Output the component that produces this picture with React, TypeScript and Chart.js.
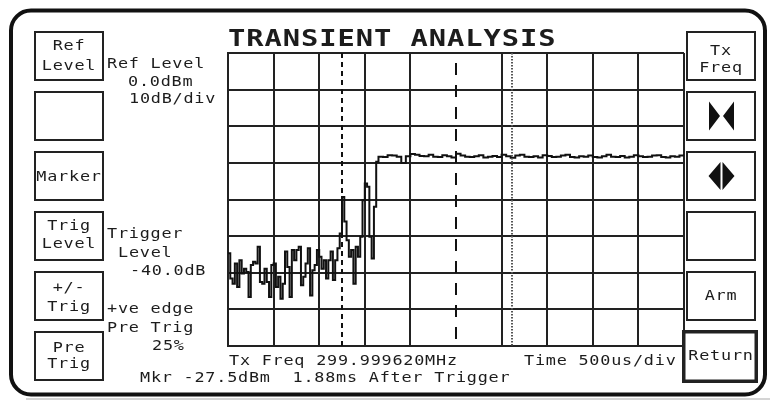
import React, { useEffect, useRef } from "react";
import { Chart, registerables } from "chart.js";

Chart.register(...registerables);

// ---------------- data ----------------
const sweepStartMs = 0;
const sweepEndMs = 5;
const timeDivMs = 0.5;
const refLevelDb = 0;
const bottomLevelDb = -80;
const levelDivDb = 10;

// trace samples before / during the rising edge (every 25 us from 0 ms)
const captureStepMs = 0.025;
const captureLevels = [
  -54.7, -61.6, -63.0, -57.5, -63.9, -56.6, -60.2, -58.9, -59.8, -66.6,
  -57.9, -57.0, -57.5, -52.9, -62.5, -63.0, -58.9, -62.5, -66.6, -57.9,
  -57.5, -63.9, -61.1, -67.1, -63.0, -54.2, -58.4, -66.6, -53.8, -56.6,
  -53.8, -52.9, -63.4, -61.1, -57.5, -53.3, -66.2, -59.3, -57.9, -53.8,
  -55.6, -58.9, -56.6, -61.6, -56.6, -54.2, -62.0, -56.6, -53.3, -49.3,
  -39.3, -46.0, -51.1, -55.6, -53.8, -63.0, -52.9, -55.6, -50.2, -40.2,
  -35.6, -36.5, -50.2, -56.1, -42.0, -29.7, -28.3,
];

// settled carrier level (every 50 us from 1.70 ms)
const settledStartMs = 1.7;
const settledStepMs = 0.05;
const settledLevels = [
  -28.4, -27.9, -28.0, -28.3, -30.0, -28.2, -27.6, -27.8, -28.1, -28.2,
  -27.8, -28.3, -28.4, -27.9, -28.2, -28.5, -27.5, -28.0, -28.3, -28.4,
  -28.2, -27.9, -28.5, -28.3, -28.1, -28.4, -27.8, -28.2, -28.6, -28.0,
  -27.8, -28.3, -28.4, -28.2, -28.5, -27.9, -28.1, -28.4, -28.3, -28.0,
  -27.8, -28.4, -28.5, -28.2, -28.3, -28.0, -28.4, -28.5, -28.2, -27.8,
  -28.3, -28.4, -28.1, -28.5, -28.3, -27.9, -28.2, -28.4, -28.3, -28.0,
  -27.9, -28.4, -28.5, -28.2, -28.3, -28.0, -27.6,
];

const triggerTimeMs = 1.25;
const centreTimeMs = 2.5;
const markerTimeMs = 3.115;

// ---------------- text ----------------
const titleText = "TRANSIENT ANALYSIS";
const leftKeys = [["Ref", "Level"], [], ["Marker"], ["Trig", "Level"], ["+/-", "Trig"], ["Pre", "Trig"]];
const rightKeys = [["Tx", "Freq"], [], [], [], ["Arm"], ["Return"]];
const refInfo = ["Ref Level", "0.0dBm", "10dB/div"];
const trigInfo = ["Trigger", "Level", "-40.0dB"];
const edgeInfo = ["+ve edge", "Pre Trig", "25%"];
const freqLine = "Tx Freq 299.999620MHz";
const timeLine = "Time 500us/div";
const markerLine = "Mkr -27.5dBm  1.88ms After Trigger";

const MONO = '"DejaVu Sans Mono", "Liberation Mono", monospace';
const INK = "#1c1c1c";

function Label(props: { text: string; x: number; capTop: number; center?: boolean; big?: boolean }) {
  const { text, x, capTop, center = false, big = false } = props;
  const size = big ? 23 : 14;
  const capOffset = big ? 2.6 : 1.7;
  const sx = big ? 1.25 : 1.2;
  const style: React.CSSProperties = {
    position: "absolute",
    left: x,
    top: capTop - capOffset,
    fontFamily: MONO,
    fontSize: size,
    lineHeight: `${size}px`,
    fontWeight: big ? "bold" : "normal",
    letterSpacing: big ? "0.75px" : "0.65px",
    whiteSpace: "pre",
    color: INK,
    transform: center ? `translateX(-50%) scaleX(${sx})` : `scaleX(${sx})`,
    transformOrigin: center ? "center top" : "left top",
  };
  return <div style={style}>{text}</div>;
}

const KEY_TOPS = [31, 91, 151, 211, 271, 331];

const decorPlugin = {
  id: "decor",
  beforeDraw(chart: any) {
    const ctx = chart.ctx as CanvasRenderingContext2D;
    ctx.save();
    ctx.fillStyle = "#ffffff";
    ctx.fillRect(0, 0, chart.width, chart.height);
    // faint shadow line under the bezel
    ctx.strokeStyle = "#d4d4d4";
    ctx.lineWidth = 2;
    ctx.beginPath();
    ctx.moveTo(26, 399);
    ctx.lineTo(770, 399);
    ctx.stroke();
    // outer bezel
    ctx.strokeStyle = "#111";
    ctx.lineWidth = 4;
    ctx.beginPath();
    (ctx as any).roundRect(11, 10.5, 754, 384, 20);
    ctx.stroke();
    // soft keys
    ctx.strokeStyle = "#222";
    ctx.lineWidth = 2;
    KEY_TOPS.forEach((top, i) => {
      ctx.strokeRect(35, top + 1, 68, 48);
      if (i < 5) ctx.strokeRect(687, top + 1, 68, 48);
    });
    ctx.lineWidth = 3.5;
    ctx.strokeRect(683.75, 331.75, 72.5, 49.5);
    // bowtie icon
    ctx.fillStyle = "#111";
    const cx = 721.5;
    let cy = 116;
    ctx.beginPath();
    ctx.moveTo(cx - 12.5, cy - 14.5);
    ctx.lineTo(cx - 12.5, cy + 14.5);
    ctx.lineTo(cx - 1.5, cy);
    ctx.closePath();
    ctx.moveTo(cx + 12.5, cy - 14.5);
    ctx.lineTo(cx + 12.5, cy + 14.5);
    ctx.lineTo(cx + 1.5, cy);
    ctx.closePath();
    ctx.fill();
    // left/right arrows icon
    cy = 176;
    ctx.beginPath();
    ctx.moveTo(cx - 1, cy - 14);
    ctx.lineTo(cx - 1, cy + 14);
    ctx.lineTo(cx - 13, cy);
    ctx.closePath();
    ctx.moveTo(cx + 1, cy - 14);
    ctx.lineTo(cx + 1, cy + 14);
    ctx.lineTo(cx + 13, cy);
    ctx.closePath();
    ctx.fill();
    ctx.restore();
  },
};

const markerPlugin = {
  id: "markerLines",
  afterDatasetsDraw(chart: any) {
    const ctx = chart.ctx as CanvasRenderingContext2D;
    const a = chart.chartArea;
    const xs = chart.scales.x;
    const line = (t: number, dash: number[], offset: number, color: string, w: number) => {
      const px = Math.round(xs.getPixelForValue(t));
      ctx.save();
      ctx.strokeStyle = color;
      ctx.lineWidth = w;
      ctx.setLineDash(dash);
      ctx.lineDashOffset = offset;
      ctx.beginPath();
      ctx.moveTo(px, a.top);
      ctx.lineTo(px, a.bottom);
      ctx.stroke();
      ctx.restore();
    };
    line(triggerTimeMs, [5, 4], 0, "#111", 2);
    line(centreTimeMs, [12, 10], 12, "#111", 2);
    line(markerTimeMs, [1.5, 1.5], 0, "#555", 2);
  },
};

export default function App() {
  const ref = useRef<HTMLCanvasElement | null>(null);

  useEffect(() => {
    if (!ref.current) return;
    const points = [
      ...captureLevels.map((v, i) => ({ x: sweepStartMs + i * captureStepMs, y: v })),
      ...settledLevels.map((v, j) => ({ x: settledStartMs + j * settledStepMs, y: v })),
    ];
    const chart = new Chart(ref.current, {
      type: "line",
      data: {
        datasets: [
          {
            data: points,
            borderColor: "#111",
            borderWidth: 2,
            pointRadius: 0,
            stepped: true,
            fill: false,
          },
        ],
      },
      options: {
        responsive: false,
        animation: false,
        events: [],
        layout: { padding: { left: 228, top: 53, right: 86, bottom: 55 } },
        plugins: {
          legend: { display: false },
          tooltip: { enabled: false },
          title: { display: false },
        },
        scales: {
          x: {
            type: "linear",
            min: sweepStartMs,
            max: sweepEndMs,
            ticks: { display: false, stepSize: timeDivMs },
            grid: {
              color: (c: any) =>
                c.tick && Math.abs(c.tick.value - centreTimeMs) < 1e-6 ? "rgba(0,0,0,0)" : "#222",
              lineWidth: 2,
              drawTicks: false,
            },
            border: { display: true, color: "#222", width: 2 },
            afterFit: (s: any) => {
              s.height = 0;
            },
          },
          y: {
            type: "linear",
            min: bottomLevelDb,
            max: refLevelDb,
            ticks: { display: false, stepSize: levelDivDb },
            grid: { color: "#222", lineWidth: 2, drawTicks: false },
            border: { display: true, color: "#222", width: 2 },
            afterFit: (s: any) => {
              s.width = 0;
            },
          },
        },
      } as any,
      plugins: [decorPlugin, markerPlugin],
    });
    return () => chart.destroy();
  }, []);

  const labels: JSX.Element[] = [];
  const leftCapTops = [[40, 60], [], [171], [220, 238], [282, 301], [342, 358]];
  leftKeys.forEach((lines, i) =>
    lines.forEach((t, k) => labels.push(<Label key={`l${i}${k}`} text={t} x={69} capTop={leftCapTops[i][k]} center />))
  );
  const rightCapTops = [[45, 62], [], [], [], [290], [350]];
  rightKeys.forEach((lines, i) =>
    lines.forEach((t, k) => labels.push(<Label key={`r${i}${k}`} text={t} x={721} capTop={rightCapTops[i][k]} center />))
  );
  const refPos = [[107, 58], [128, 76], [129, 93]];
  refInfo.forEach((t, k) => labels.push(<Label key={`ri${k}`} text={t} x={refPos[k][0]} capTop={refPos[k][1]} />));
  const trigPos = [[107, 228], [118, 247], [130, 265]];
  trigInfo.forEach((t, k) => labels.push(<Label key={`ti${k}`} text={t} x={trigPos[k][0]} capTop={trigPos[k][1]} />));
  const edgePos = [[107, 303], [107, 322], [152, 340]];
  edgeInfo.forEach((t, k) => labels.push(<Label key={`ei${k}`} text={t} x={edgePos[k][0]} capTop={edgePos[k][1]} />));

  return (
    <div style={{ position: "fixed", left: 0, top: 0, width: 770, height: 401, background: "#fff", overflow: "hidden" }}>
      <canvas ref={ref} width={770} height={401} style={{ position: "absolute", left: 0, top: 0 }} />
      <Label text={titleText} x={228} capTop={30} big />
      {labels}
      <Label text={freqLine} x={229} capTop={355} />
      <Label text={timeLine} x={524} capTop={355} />
      <Label text={markerLine} x={140} capTop={372} />
    </div>
  );
}
